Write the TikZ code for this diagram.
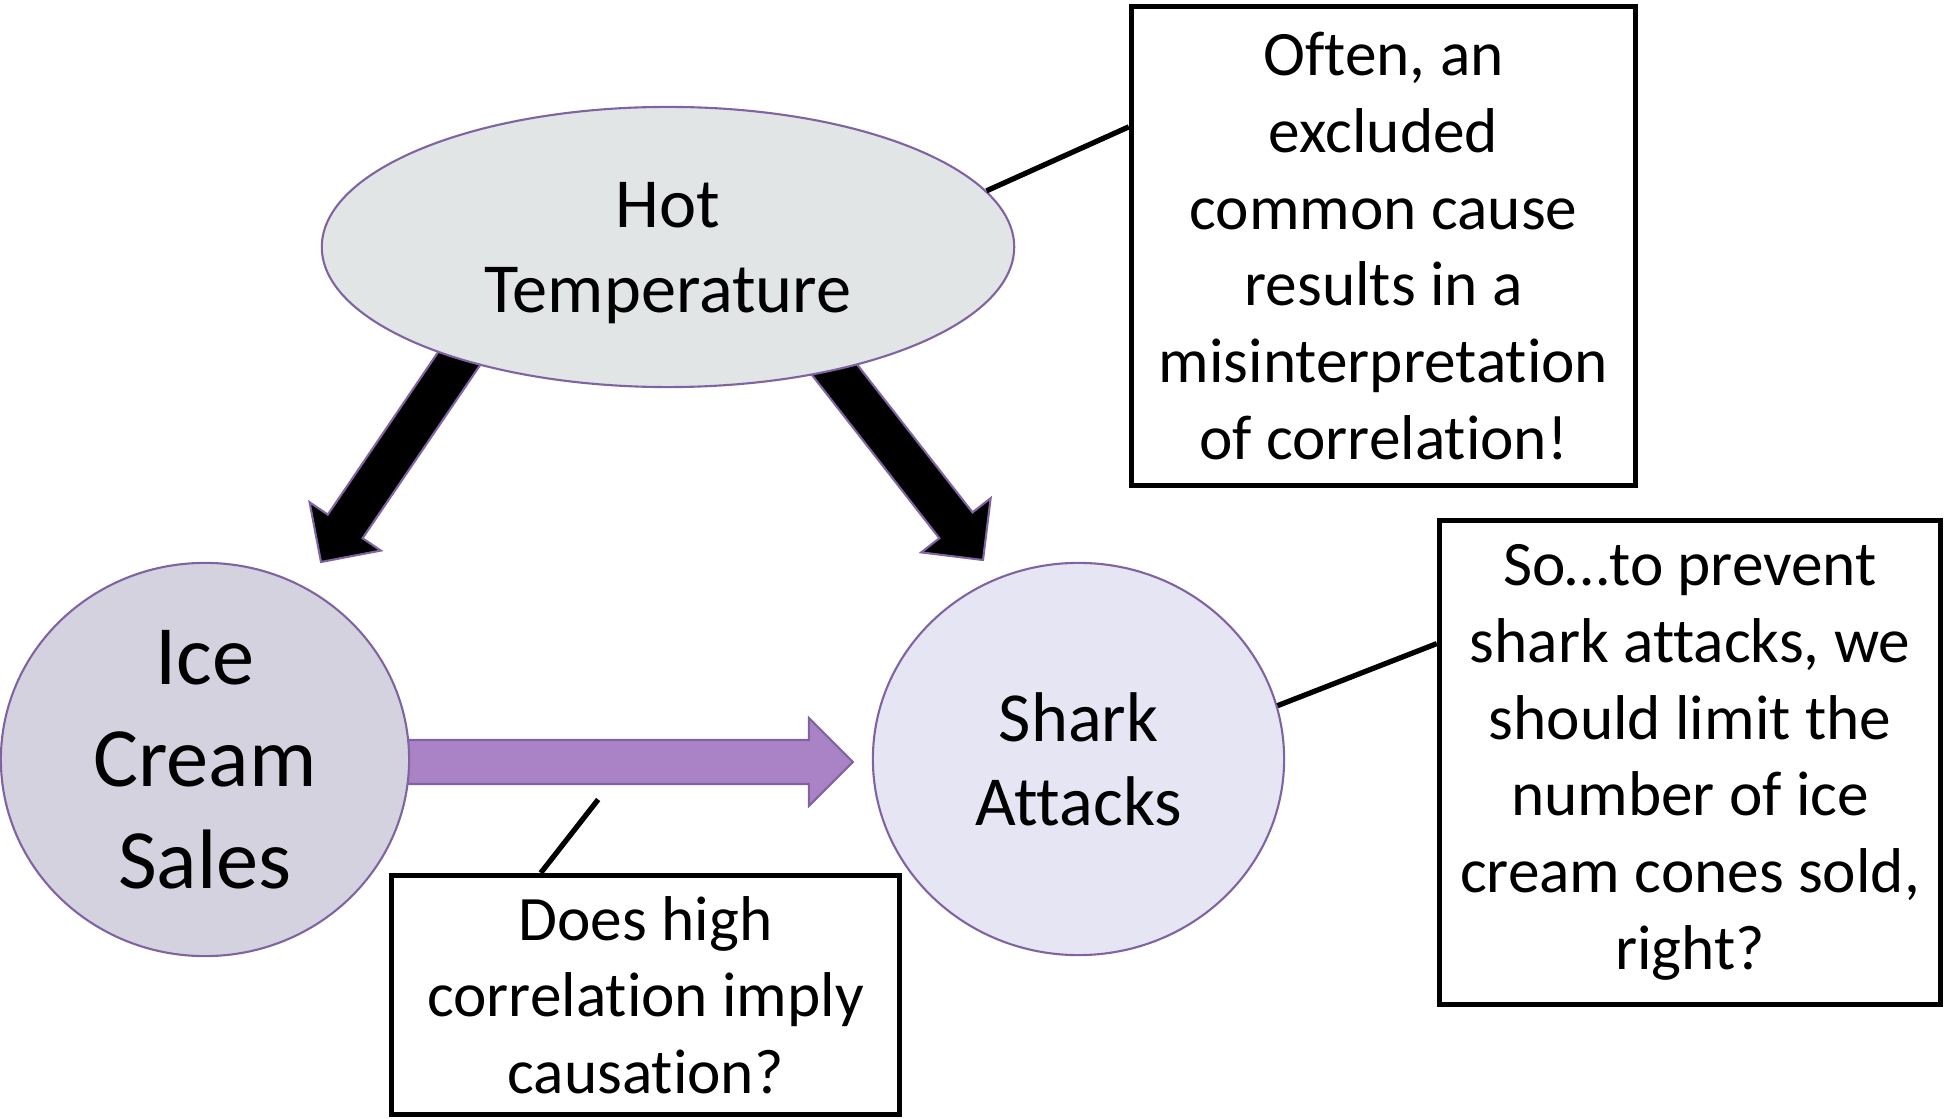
\documentclass[tikz,border=0pt]{standalone}
\usepackage{fontspec}
\setmainfont{Carlito}[Ligatures={NoCommon,NoContextual}]
\usetikzlibrary{shapes.geometric,calc,backgrounds}

\definecolor{edge}{HTML}{8064A2}
\definecolor{hotfill}{HTML}{E1E5E6}
\definecolor{icefill}{HTML}{D4D2DF}
\definecolor{sharkfill}{HTML}{E6E5F3}
\definecolor{linkfill}{HTML}{A983C5}

\tikzset{
	blob/.style={ellipse, draw=edge, line width=0.6pt, inner sep=0pt, align=center},
	note/.style={rectangle, draw=black, line width=1.45pt, inner sep=0pt, align=center, font=\fontsize{18}{21.8}\selectfont},
	callout/.style={draw=black, line width=1.5pt},
	fat/.style={draw=edge, line width=0.6pt, fill=#1}
}

% block arrow: fill, tail, tip, half shaft, half head, head length
\newcommand{\fatarrow}[6]{%
	\path ($(#3)!#6!(#2)$) coordinate (fa-base);
	\draw[fat=#1] ($(#2)!#4!90:(#3)$) -- ($(fa-base)!#4!90:(#3)$) -- ($(fa-base)!#5!90:(#3)$) -- (#3)
		-- ($(fa-base)!#5!-90:(#3)$) -- ($(fa-base)!#4!-90:(#3)$) -- ($(#2)!#4!-90:(#3)$) -- cycle;
}

\begin{document}
\begin{tikzpicture}[x=0.01cm, y=-0.01cm]
	\useasboundingbox (0,0) rectangle (1946,1119);

	% cause and effects
	\node[blob, fill=hotfill, minimum width=6.92cm, minimum height=2.80cm, font=\fontsize{20}{24.2}\selectfont] (ht) at (668,247) {Hot\\\raisebox{0pt}[\height][0pt]{Temperature}};
	\node[blob, fill=icefill, minimum width=4.08cm, minimum height=3.93cm, font=\fontsize{24}{29}\selectfont] (ice) at (205,759.5) {Ice\\Cream\\Sales};
	\node[blob, fill=sharkfill, minimum width=4.11cm, minimum height=3.92cm, font=\fontsize{20}{23.9}\selectfont] (shark) at (1078.5,759) {Shark\\Attacks};

	% notes
	\node[note, minimum width=5.04cm, minimum height=4.79cm] (oft) at (1383.5,246) {Often, an\\excluded\\common cause\\results in a\\misinterpretation\\of correlation!};
	\node[note, minimum width=5.01cm, minimum height=4.84cm] (cone) at (1690,762.5) {So…to prevent\\shark attacks, we\\should limit the\\number of ice\\cream cones sold,\\right?};
	\node[note, minimum width=5.08cm, minimum height=2.39cm] (ask) at (645.5,995) {Does high\\correlation imply\\causation?};

	% arrow ends
	\coordinate (l-tail) at ($(ht.center)+(-201,100)$);
	\coordinate (l-tip) at ($(ice.center)+(116,-197.5)$);
	\coordinate (r-tail) at ($(ht.center)+(155,108)$);
	\coordinate (r-tip) at ($(shark.center)+(-95.5,-199)$);
	\coordinate (link-tail) at ($(ice.east)+(-20,2.5)$);
	\coordinate (link-tip) at ($(shark.west)+(-19,3)$);

	\begin{scope}[on background layer]
		\fatarrow{black}{l-tail}{l-tip}{0.21cm}{0.43cm}{0.43cm}
		\fatarrow{black}{r-tail}{r-tip}{0.21cm}{0.44cm}{0.44cm}
		\fatarrow{linkfill}{link-tail}{link-tip}{0.22cm}{0.44cm}{0.44cm}
	\end{scope}

	% callout lines
	\coordinate (gap) at ($(ice.east)+(188,40)$);
	\draw[callout] (ht.10) -- ($(oft.north west)!0.254!(oft.south west)$);
	\draw[callout] (shark.15) -- ($(cone.north west)!0.257!(cone.south west)$);
	\draw[callout] (gap) -- ($(ask.north west)!0.296!(ask.north east)$);
\end{tikzpicture}
\end{document}
